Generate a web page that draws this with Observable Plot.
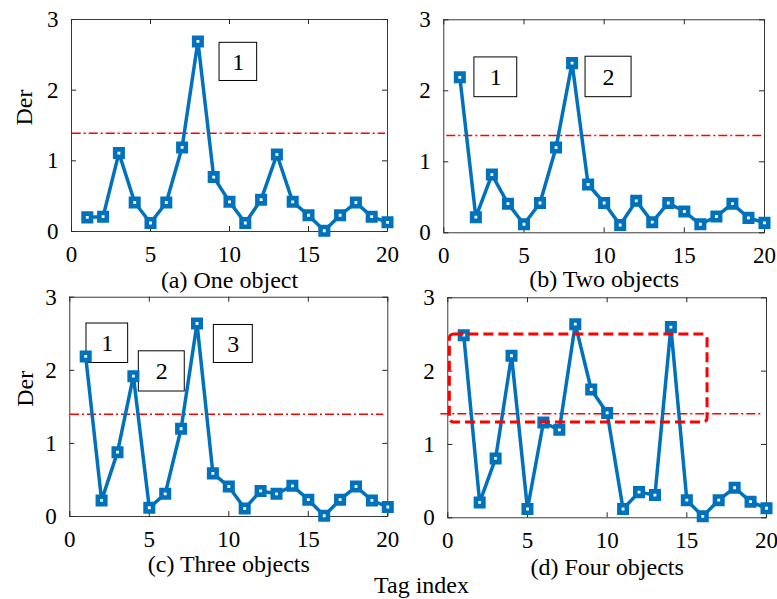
<!DOCTYPE html>
<html>
<head>
<meta charset="utf-8">
<script src="https://cdn.jsdelivr.net/npm/d3@7"></script>
<script src="https://cdn.jsdelivr.net/npm/@observablehq/plot@0.6"></script>
<style>
  html, body { margin: 0; padding: 0; background: white; }
  #chart { position: relative; width: 777px; height: 599px; overflow: hidden; background: white; }
  #chart svg { position: absolute; left: 0; top: 0; font-family: 'Liberation Serif', serif !important; }
  #chart svg text { font-family: 'Liberation Serif', serif !important; }
</style>
</head>
<body>
<div id="chart"></div>
<script>
// ---------- data ----------
const tagIndex = d3.range(1, 21);
const derOne   = [0.20, 0.21, 1.11, 0.41, 0.12, 0.41, 1.19, 2.69, 0.77, 0.42, 0.12, 0.45, 1.09, 0.42, 0.23, 0.01, 0.23, 0.41, 0.21, 0.13];
const derTwo   = [2.19, 0.22, 0.82, 0.41, 0.12, 0.42, 1.20, 2.39, 0.68, 0.42, 0.11, 0.45, 0.15, 0.42, 0.30, 0.12, 0.23, 0.41, 0.21, 0.14];
const derThree = [2.19, 0.22, 0.88, 1.92, 0.12, 0.31, 1.20, 2.64, 0.59, 0.41, 0.11, 0.35, 0.31, 0.42, 0.23, 0.01, 0.23, 0.41, 0.22, 0.13];
const derFour  = [2.49, 0.21, 0.81, 2.21, 0.12, 1.30, 1.20, 2.64, 1.75, 1.43, 0.12, 0.35, 0.31, 2.60, 0.24, 0.02, 0.24, 0.41, 0.22, 0.13];
const thresholds = [1.39, 1.37, 1.40, 1.42];
const captions = ["(a) One object", "(b) Two objects", "(c) Three objects", "(d) Four objects"];
const xTicks = [0, 5, 10, 15, 20];
const yTicks = [0, 1, 2, 3];
// label boxes (data coordinates)
const boxesA = [{label: "1", x1: 9.37, x2: 11.75, y1: 2.13, y2: 2.67}];
const boxesB = [{label: "1", x1: 1.91, x2: 4.58, y1: 1.91, y2: 2.47},
                {label: "2", x1: 8.84, x2: 11.71, y1: 1.91, y2: 2.48}];
const boxesC = [{label: "1", x1: 1.05, x2: 3.67, y1: 2.10, y2: 2.64},
                {label: "2", x1: 4.34, x2: 7.23, y1: 1.71, y2: 2.26},
                {label: "3", x1: 9.06, x2: 11.51, y1: 2.10, y2: 2.62}];
const boxesD = [];
const regionD = [{x1: 0.13, x2: 16.3, y1: 1.30, y2: 2.50}];

const series = [derOne, derTwo, derThree, derFour];
const boxes = [boxesA, boxesB, boxesC, boxesD];

// ---------- layout ----------
const W = 777, H = 599;
const frames = [
  {l: 71,    r: 387,   t: 19,    b: 231,   capDy: 56, thrL: 0.7, thrR: 2,   der: -47},
  {l: 443.3, r: 764,   t: 19.3,  b: 232.3, capDy: 54, thrL: 3,   thrR: 1.3},
  {l: 69.3,  r: 387.3, t: 296.7, b: 516,   capDy: 55, thrL: 0.7, thrR: 4,   der: -44.3},
  {l: 447.3, r: 766,   t: 297.3, b: 517.3, capDy: 57, thrL: -7,  thrR: 5,   tag: true}
];

const blue = "#0072BD";
const axisColor = "#262626";
const font = "Liberation Serif";
const chart = document.getElementById("chart");

frames.forEach((f, i) => {
  const data = tagIndex.map((t, k) => ({t, v: series[i][k]}));
  const innerW = f.r - f.l, innerH = f.b - f.t;
  const tick = 5;
  const marks = [
    Plot.frame({stroke: axisColor, strokeWidth: 0.9}),
    Plot.tickX(xTicks, {x: d => d, stroke: axisColor, insetTop: innerH - tick}),
    Plot.tickX(xTicks, {x: d => d, stroke: axisColor, insetBottom: innerH - tick}),
    Plot.tickY(yTicks, {y: d => d, stroke: axisColor, insetRight: innerW - tick}),
    Plot.tickY(yTicks, {y: d => d, stroke: axisColor, insetLeft: innerW - tick}),
    Plot.axisX(xTicks, {tickSize: 0, tickPadding: 12, dy: 2, fontSize: 23, fontFamily: font, fill: "black", label: null, tickFormat: d => d}),
    Plot.axisY(yTicks, {tickSize: 0, tickPadding: 10, dx: -3, fontSize: 23, fontFamily: font, fill: "black", label: null, tickFormat: d => d}),
    Plot.ruleY([thresholds[i]], {stroke: "#FF0000", strokeWidth: 1.5, strokeDasharray: "9,3,2,3",
                                 insetLeft: f.thrL, insetRight: f.thrR}),
    Plot.rect(boxes[i], {x1: "x1", x2: "x2", y1: "y1", y2: "y2", fill: "white", stroke: "black", strokeWidth: 1}),
    Plot.text(boxes[i], {x: d => (d.x1 + d.x2) / 2, y: d => (d.y1 + d.y2) / 2, text: "label", fontSize: 24, fontFamily: font, fill: "black"}),
    Plot.line(data, {x: "t", y: "v", stroke: blue, strokeWidth: 3.5}),
    Plot.dot(data, {x: "t", y: "v", symbol: "square", r: 4.2, stroke: blue, strokeWidth: 4.6, fill: "white"}),
    Plot.text([captions[i]], {frameAnchor: "bottom", dy: f.capDy, fontSize: 24, fontFamily: font, fill: "black"})
  ];
  if (i === 3) {
    marks.push(Plot.rect(regionD, {x1: "x1", x2: "x2", y1: "y1", y2: "y2", fill: "none",
      stroke: "#FF0000", strokeWidth: 3, strokeDasharray: "10,5", rx: 4}));
  }
  if (f.der !== undefined) {
    marks.push(Plot.text(["Der"], {frameAnchor: "left", dx: f.der, rotate: -90, fontSize: 24, fontFamily: font, fill: "black"}));
  }
  if (f.tag) {
    marks.push(Plot.text(["Tag index"], {frameAnchor: "bottom-left", dx: 421 - f.l, dy: 585 - f.b,
      textAnchor: "middle", lineAnchor: "middle", fontSize: 24, fontFamily: font, fill: "black"}));
  }
  const svg = Plot.plot({
    width: W, height: H,
    marginLeft: f.l, marginRight: W - f.r, marginTop: f.t, marginBottom: H - f.b,
    x: {domain: [0, 20]},
    y: {domain: [0, 3]},
    style: {background: "transparent", overflow: "visible", fontFamily: "'Liberation Serif', serif", color: "black"},
    marks
  });
  chart.appendChild(svg);
});
</script>
</body>
</html>
